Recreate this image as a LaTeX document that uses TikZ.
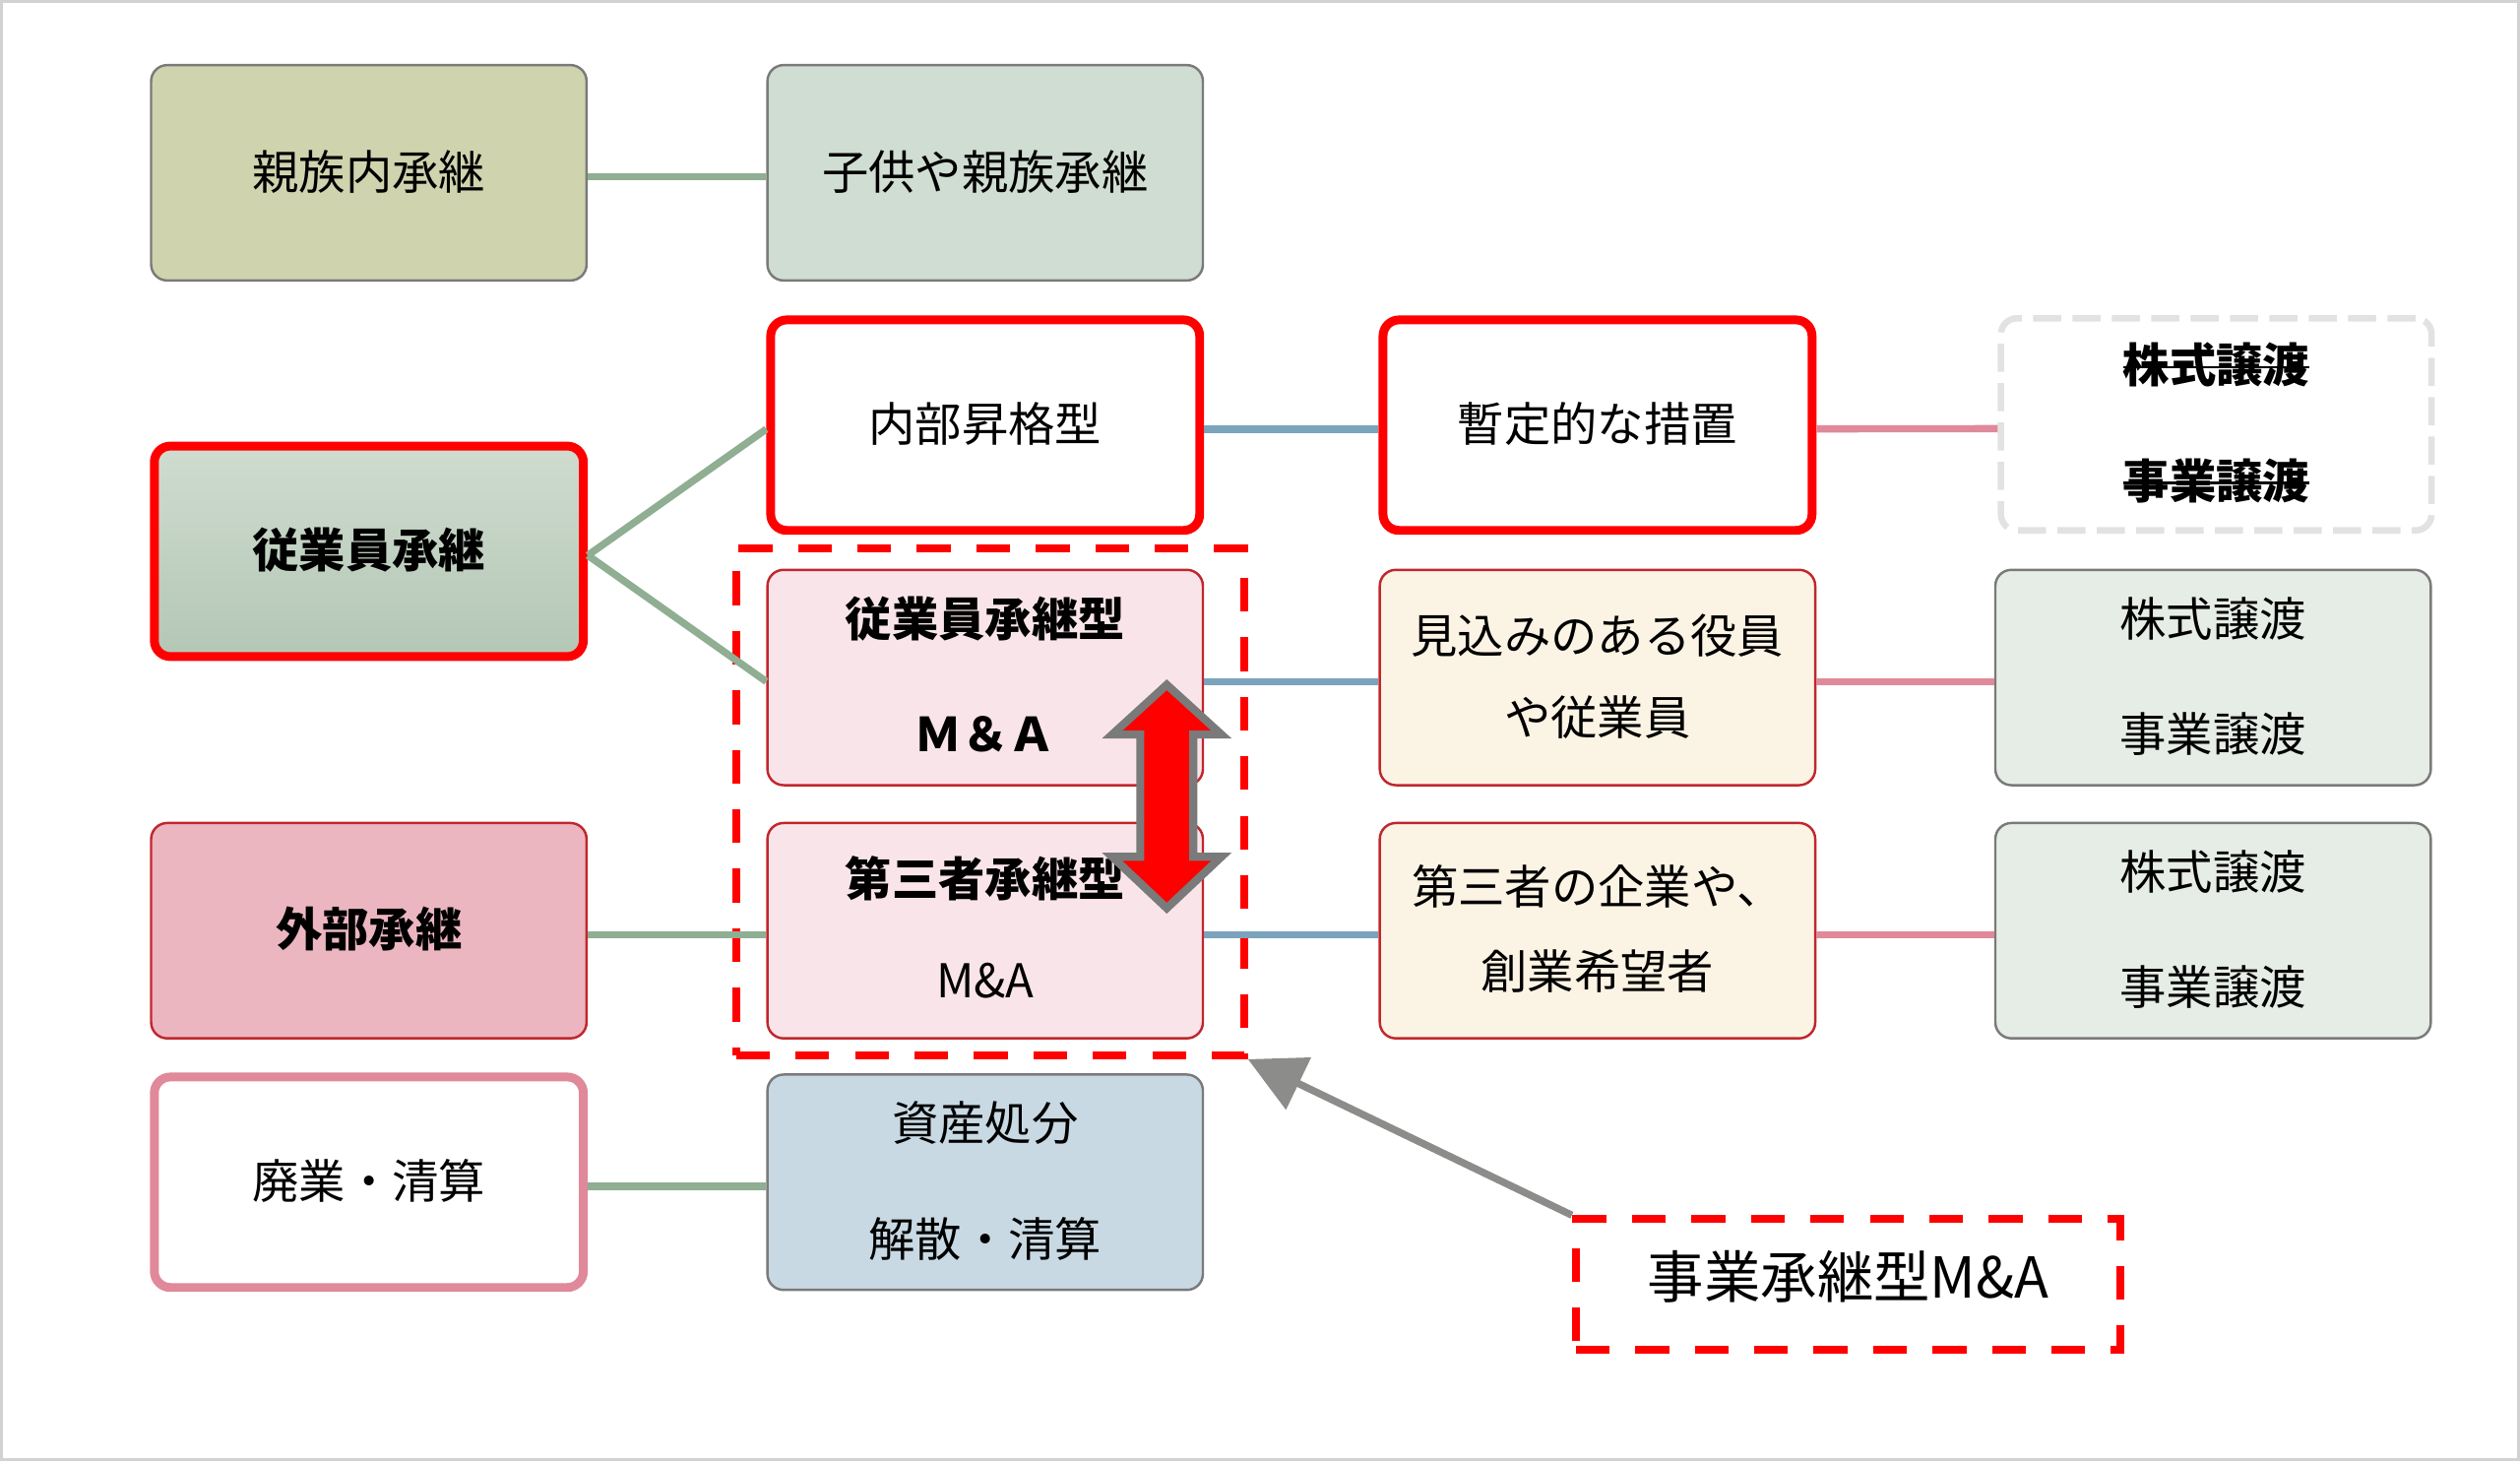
\documentclass[tikz,border=0pt]{standalone}
\usepackage{fontspec}
\setmainfont{Noto Sans CJK JP}
\usetikzlibrary{arrows.meta}

\definecolor{olivebox}{HTML}{D0D4AE}
\definecolor{sagebox}{HTML}{D0DDD2}
\definecolor{sagetop}{HTML}{CFDCCF}
\definecolor{sagebot}{HTML}{B4C7B5}
\definecolor{pinkbox}{HTML}{F9E5E9}
\definecolor{creambox}{HTML}{FBF3E3}
\definecolor{greybox}{HTML}{E6ECE6}
\definecolor{rosebox}{HTML}{ECB6C0}
\definecolor{bluebox}{HTML}{C8D9E3}
\definecolor{darkred}{HTML}{C0272D}
\definecolor{rosered}{HTML}{E0899A}
\definecolor{greenline}{HTML}{8FAE92}
\definecolor{blueline}{HTML}{7BA3BC}
\definecolor{pinkline}{HTML}{E0899A}
\definecolor{dashgrey}{HTML}{E0E3E0}
\definecolor{arrowgrey}{HTML}{8C8C8A}
\definecolor{edgegrey}{HTML}{7A7A7A}

% text of a box, lifted a little above the middle
\newcommand{\boxlines}[2][0.19cm]{\raisebox{#1}{\begin{tabular}{@{}c@{}}#2\end{tabular}}}
% struck-out words
\newcommand{\struck}[1]{\setbox0\hbox{#1}\rlap{\rule[0.31em]{\wd0}{0.05em}}\box0}

\begin{document}
\begin{tikzpicture}[x=0.02cm, y=-0.02cm,
    box/.style={rectangle, rounded corners=0.2cm, minimum width=5.42cm, minimum height=2.68cm,
        inner sep=0pt, line width=0.03cm, font=\fontsize{16.5pt}{29pt}\selectfont},
    boldbox/.style={box, font=\fontsize{16.5pt}{29pt}\selectfont\bfseries},
    thickbox/.style={line width=0.11cm, minimum width=5.34cm, minimum height=2.62cm},
    link/.style={line width=0.09cm, transform canvas={yshift=-0.05cm}},
    redframe/.style={draw=red, line width=0.1cm, dash pattern=on 0.42cm off 0.32cm, inner sep=0pt}]
    \useasboundingbox (0,0) rectangle (1568,909);
    \draw[gray!35, line width=0.04cm] (1,1) rectangle (1567,908);

    % first column
    \node[box, draw=edgegrey, fill=olivebox] (shinzoku) at (229.5,107.5) {\boxlines{親族内承継}};
    \node[boldbox, thickbox, draw=red, top color=sagetop, bottom color=sagebot] (jugyoin) at (229.5,343) {\boxlines{従業員承継}};
    \node[boldbox, draw=darkred, fill=rosebox] (gaibu) at (229.5,579) {\boxlines{外部承継}};
    \node[box, thickbox, draw=rosered, fill=white] (haigyo) at (229.5,735.5) {\boxlines{廃業・清算}};

    % second column
    \node[box, draw=edgegrey, fill=sagebox] (kodomo) at (613,107.5) {\boxlines{子供や親族承継}};
    \node[box, thickbox, draw=red, fill=white] (naibu) at (613,264.5) {\boxlines{内部昇格型}};
    \node[boldbox, draw=darkred, fill=pinkbox] (jugyoinma) at (613,421.5) {\boxlines{従業員承継型\\[12pt]Ｍ＆Ａ}};
    \node[box, draw=darkred, fill=pinkbox] (daisansha) at (613,579) {\boxlines[-0.1cm]{\bfseries 第三者承継型\\[7pt]M\&A}};
    \node[box, draw=edgegrey, fill=bluebox] (shisan) at (613,735.5) {\boxlines{資産処分\\[12pt]解散・清算}};
    \node[redframe, minimum width=6.32cm, minimum height=6.31cm] (maframe) at (616,498.75) {};

    % third column
    \node[box, thickbox, draw=red, fill=white] (zantei) at (994,264.5) {\boxlines{暫定的な措置}};
    \node[box, draw=darkred, fill=creambox] (mikomi) at (994,421.5) {\boxlines{見込みのある役員\\や従業員}};
    \node[box, draw=darkred, fill=creambox] (kigyo) at (994,579) {\boxlines{第三者の企業や、\\[1pt]創業希望者}};

    % fourth column
    \node[boldbox, draw=dashgrey, line width=0.08cm, dash pattern=on 0.35cm off 0.14cm,
        minimum width=5.36cm, minimum height=2.64cm] (zanteijoto) at (1379,264) {\boxlines{\struck{株式譲渡}\\[12pt]\struck{事業譲渡}}};
    \node[box, draw=edgegrey, fill=greybox] (joto1) at (1377,421.5) {\boxlines{株式譲渡\\[12pt]事業譲渡}};
    \node[box, draw=edgegrey, fill=greybox] (joto2) at (1377,579) {\boxlines{株式譲渡\\[12pt]事業譲渡}};

    \node[redframe, minimum width=6.78cm, minimum height=1.62cm, font=\fontsize{20pt}{24pt}\selectfont]
        (jigyoma) at (1150,799) {\boxlines[-0.05cm]{事業承継型M\&A}};

    % connectors
    \draw[link, greenline] (shinzoku) -- (kodomo);
    \draw[link, greenline] (jugyoin.east) -- (naibu.west);
    \draw[link, greenline] (jugyoin.east) -- (jugyoinma.west);
    \draw[link, greenline] (gaibu) -- (daisansha);
    \draw[link, greenline] (haigyo) -- (shisan);
    \draw[link, blueline] (naibu) -- (zantei);
    \draw[link, blueline] (jugyoinma) -- (mikomi);
    \draw[link, blueline] (daisansha) -- (kigyo);
    \draw[link, pinkline] (zantei) -- (zanteijoto);
    \draw[link, pinkline] (mikomi) -- (joto1);
    \draw[link, pinkline] (kigyo) -- (joto2);

    % swap arrow and pointer
    \draw[edgegrey, fill=red, line width=0.1cm, line join=miter] (726,426) -- (760,457) -- (742.5,457)
        -- (742.5,533) -- (760,533) -- (726,565) -- (692,533) -- (709.5,533) -- (709.5,457) -- (692,457) -- cycle;
    \draw[-{Triangle[length=0.7cm,width=0.7cm]}, arrowgrey, line width=0.09cm] (jigyoma.north west) -- (maframe.south east);
\end{tikzpicture}
\end{document}
